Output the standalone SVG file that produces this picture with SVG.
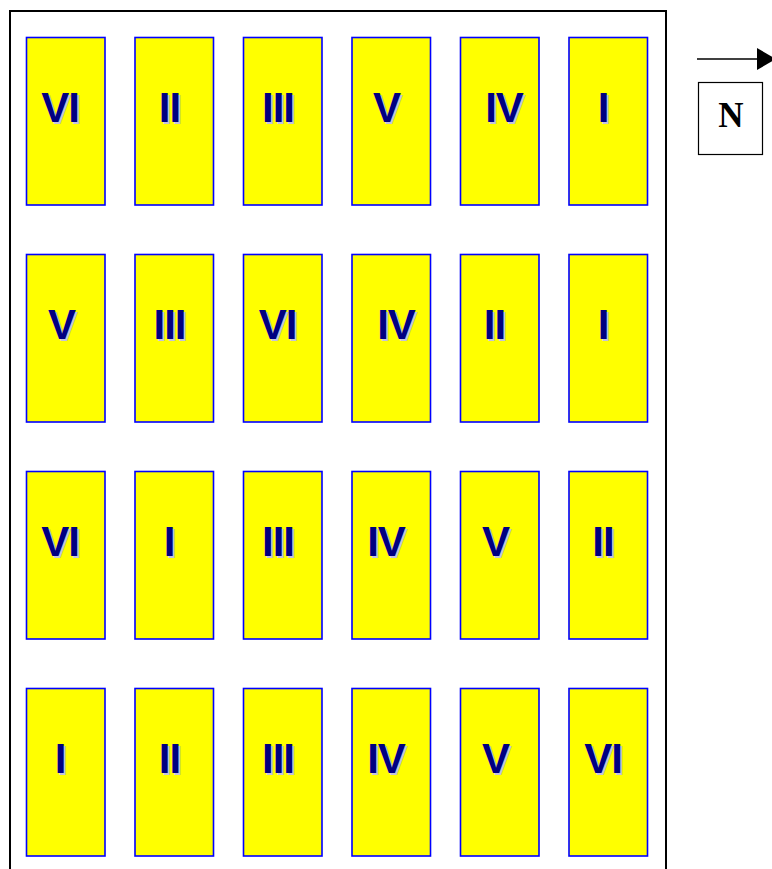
<svg xmlns="http://www.w3.org/2000/svg" width="772" height="869" viewBox="0 0 772 869">
<defs>
<style>
.plot{fill:#ffff00;stroke:#0000ff;stroke-width:1.6}
.lbl{font-family:"Liberation Sans",Arial,sans-serif;font-weight:bold;font-size:42px;letter-spacing:-1px;text-anchor:middle}
.sh{fill:#c4c4dc}
.fg{fill:#000080}
</style>
</defs>
<rect width="772" height="869" fill="#fff"/>
<rect x="10" y="11" width="656" height="870" fill="none" stroke="#000" stroke-width="2"/>
<g id="connectors">
<line x1="697" y1="59" x2="758" y2="59" stroke="#000" stroke-width="1.5"/>
<path d="M757,48 L776,59 L757,70 Z" fill="#000"/>
</g>
<g id="north">
<rect x="698.5" y="82.5" width="64" height="72" fill="#fff" stroke="#000" stroke-width="1.2"/>
<text x="731" y="127" font-family="'Liberation Serif','Times New Roman',serif" font-weight="bold" font-size="35" text-anchor="middle" fill="#000">N</text>
</g>
<g id="r1c1"><rect class="plot" x="26.5" y="37.5" width="78.5" height="167.5"/><text class="lbl sh" x="62" y="123.5">VI</text><text class="lbl fg" x="60" y="121.5">VI</text></g>
<g id="r1c2"><rect class="plot" x="135" y="37.5" width="78.5" height="167.5"/><text class="lbl sh" x="171.5" y="123.5">II</text><text class="lbl fg" x="169.5" y="121.5">II</text></g>
<g id="r1c3"><rect class="plot" x="243.5" y="37.5" width="78.5" height="167.5"/><text class="lbl sh" x="280" y="123.5">III</text><text class="lbl fg" x="278" y="121.5">III</text></g>
<g id="r1c4"><rect class="plot" x="352" y="37.5" width="78.5" height="167.5"/><text class="lbl sh" x="388.5" y="123.5">V</text><text class="lbl fg" x="386.5" y="121.5">V</text></g>
<g id="r1c5"><rect class="plot" x="460.5" y="37.5" width="78.5" height="167.5"/><text class="lbl sh" x="506" y="123.5">IV</text><text class="lbl fg" x="504" y="121.5">IV</text></g>
<g id="r1c6"><rect class="plot" x="569" y="37.5" width="78.5" height="167.5"/><text class="lbl sh" x="605" y="123.5">I</text><text class="lbl fg" x="603" y="121.5">I</text></g>
<g id="r2c1"><rect class="plot" x="26.5" y="254.5" width="78.5" height="167.5"/><text class="lbl sh" x="63.5" y="340.5">V</text><text class="lbl fg" x="61.5" y="338.5">V</text></g>
<g id="r2c2"><rect class="plot" x="135" y="254.5" width="78.5" height="167.5"/><text class="lbl sh" x="171.5" y="340.5">III</text><text class="lbl fg" x="169.5" y="338.5">III</text></g>
<g id="r2c3"><rect class="plot" x="243.5" y="254.5" width="78.5" height="167.5"/><text class="lbl sh" x="279.5" y="340.5">VI</text><text class="lbl fg" x="277.5" y="338.5">VI</text></g>
<g id="r2c4"><rect class="plot" x="352" y="254.5" width="78.5" height="167.5"/><text class="lbl sh" x="398" y="340.5">IV</text><text class="lbl fg" x="396" y="338.5">IV</text></g>
<g id="r2c5"><rect class="plot" x="460.5" y="254.5" width="78.5" height="167.5"/><text class="lbl sh" x="496.5" y="340.5">II</text><text class="lbl fg" x="494.5" y="338.5">II</text></g>
<g id="r2c6"><rect class="plot" x="569" y="254.5" width="78.5" height="167.5"/><text class="lbl sh" x="605" y="340.5">I</text><text class="lbl fg" x="603" y="338.5">I</text></g>
<g id="r3c1"><rect class="plot" x="26.5" y="471.5" width="78.5" height="167.5"/><text class="lbl sh" x="62" y="557.5">VI</text><text class="lbl fg" x="60" y="555.5">VI</text></g>
<g id="r3c2"><rect class="plot" x="135" y="471.5" width="78.5" height="167.5"/><text class="lbl sh" x="171" y="557.5">I</text><text class="lbl fg" x="169" y="555.5">I</text></g>
<g id="r3c3"><rect class="plot" x="243.5" y="471.5" width="78.5" height="167.5"/><text class="lbl sh" x="280" y="557.5">III</text><text class="lbl fg" x="278" y="555.5">III</text></g>
<g id="r3c4"><rect class="plot" x="352" y="471.5" width="78.5" height="167.5"/><text class="lbl sh" x="388" y="557.5">IV</text><text class="lbl fg" x="386" y="555.5">IV</text></g>
<g id="r3c5"><rect class="plot" x="460.5" y="471.5" width="78.5" height="167.5"/><text class="lbl sh" x="497.5" y="557.5">V</text><text class="lbl fg" x="495.5" y="555.5">V</text></g>
<g id="r3c6"><rect class="plot" x="569" y="471.5" width="78.5" height="167.5"/><text class="lbl sh" x="605" y="557.5">II</text><text class="lbl fg" x="603" y="555.5">II</text></g>
<g id="r4c1"><rect class="plot" x="26.5" y="688.5" width="78.5" height="167.5"/><text class="lbl sh" x="62" y="774.5">I</text><text class="lbl fg" x="60" y="772.5">I</text></g>
<g id="r4c2"><rect class="plot" x="135" y="688.5" width="78.5" height="167.5"/><text class="lbl sh" x="171.5" y="774.5">II</text><text class="lbl fg" x="169.5" y="772.5">II</text></g>
<g id="r4c3"><rect class="plot" x="243.5" y="688.5" width="78.5" height="167.5"/><text class="lbl sh" x="280" y="774.5">III</text><text class="lbl fg" x="278" y="772.5">III</text></g>
<g id="r4c4"><rect class="plot" x="352" y="688.5" width="78.5" height="167.5"/><text class="lbl sh" x="388" y="774.5">IV</text><text class="lbl fg" x="386" y="772.5">IV</text></g>
<g id="r4c5"><rect class="plot" x="460.5" y="688.5" width="78.5" height="167.5"/><text class="lbl sh" x="497.5" y="774.5">V</text><text class="lbl fg" x="495.5" y="772.5">V</text></g>
<g id="r4c6"><rect class="plot" x="569" y="688.5" width="78.5" height="167.5"/><text class="lbl sh" x="605" y="774.5">VI</text><text class="lbl fg" x="603" y="772.5">VI</text></g>
</svg>
